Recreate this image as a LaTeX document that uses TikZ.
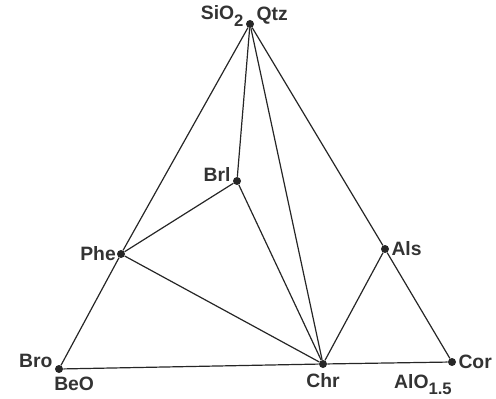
\documentclass[tikz,border=0pt]{standalone}
\usepackage{fontspec}
\setmainfont{Liberation Sans}
\usetikzlibrary{positioning}
\newcommand{\lowidx}[1]{\raisebox{-5pt}{\fontsize{12.5}{13}\selectfont #1}}

\begin{document}
\begin{tikzpicture}[
  x=0.75pt, y=-0.75pt,
  font=\fontsize{14.5}{16}\selectfont\bfseries,
  phase/.style={circle, fill=black!85, inner sep=0pt, minimum size=6pt},
  tie/.style={line width=0.9pt, black!85},
  every label/.style={inner sep=1.5pt, text=black!80}
]
\useasboundingbox (0,0) rectangle (496,399);
% phases
\node[phase, label={[yshift=6pt]left:SiO\lowidx{2}}, label={[yshift=6pt]right:Qtz}] (qtz) at (250,24) {};
\node[phase, label={[yshift=6pt]left:Bro}] (bro) at (59,369) {};
\node[phase, label=right:Cor] (cor) at (452,362) {};
\node[phase, label={[yshift=-2pt]below:Chr}] (chr) at (323,364) {};
\node[phase, label={[xshift=1pt]left:Phe}] (phe) at (121,254) {};
\node[phase, label={[yshift=5pt]left:Brl}] (brl) at (237,181) {};
\node[phase, label=right:Als] (als) at (385,249) {};
% oxide corners
\node[anchor=north west, inner sep=0pt, text=black!80] (beo) at (54,377) {BeO};
\node[anchor=north east, inner sep=0pt, text=black!80] (alo) at (452,374) {AlO\lowidx{1.5}};
% triangle
\draw[tie] (qtz) -- (phe) -- (bro) -- (chr) -- (cor) -- (als) -- (qtz);
% tie lines
\draw[tie] (qtz) -- (brl);
\draw[tie] (qtz) -- (chr);
\draw[tie] (brl) -- (phe);
\draw[tie] (brl) -- (chr);
\draw[tie] (phe) -- (chr);
\draw[tie] (als) -- (chr);
\end{tikzpicture}
\end{document}
